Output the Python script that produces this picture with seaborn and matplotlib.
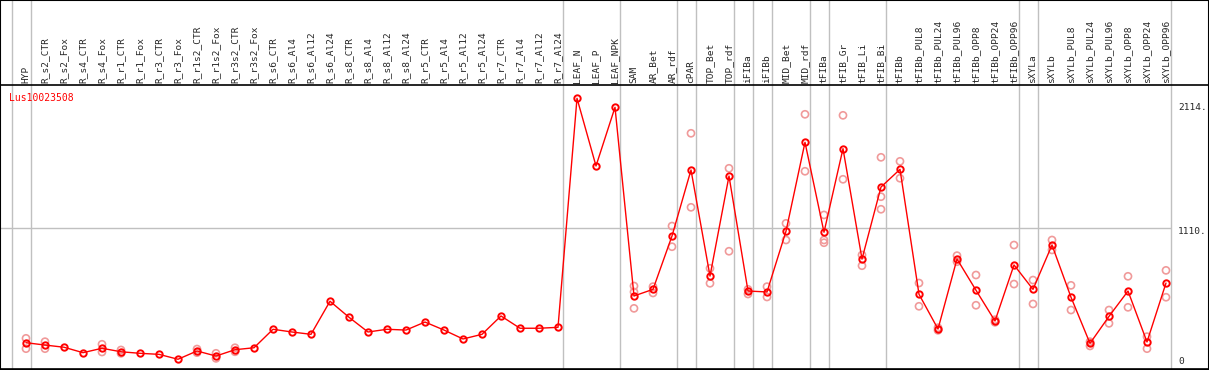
import numpy as np
import pandas as pd
import seaborn as sns
import matplotlib.pyplot as plt
import matplotlib.transforms as mtransforms

gene = 'Lus10023508'

samples = ['HYP',
	'R_s2_CTR', 'R_s2_Fox', 'R_s4_CTR', 'R_s4_Fox', 'R_r1_CTR', 'R_r1_Fox',
	'R_r3_CTR', 'R_r3_Fox', 'R_r1s2_CTR', 'R_r1s2_Fox', 'R_r3s2_CTR', 'R_r3s2_Fox',
	'R_s6_CTR', 'R_s6_Al4', 'R_s6_Al12', 'R_s6_Al24', 'R_s8_CTR', 'R_s8_Al4',
	'R_s8_Al12', 'R_s8_Al24', 'R_r5_CTR', 'R_r5_Al4', 'R_r5_Al12', 'R_r5_Al24',
	'R_r7_CTR', 'R_r7_Al4', 'R_r7_Al12', 'R_r7_Al24',
	'LEAF_N', 'LEAF_P', 'LEAF_NPK',
	'SAM', 'AR_Bet', 'AR_rdf',
	'cPAR',
	'TOP_Bet', 'TOP_rdf',
	'iFIBa', 'iFIBb',
	'MID_Bet', 'MID_rdf',
	'tFIBa',
	'tFIB_Gr', 'tFIB_Li', 'tFIB_Bi',
	'tFIBb', 'tFIBb_PUL8', 'tFIBb_PUL24', 'tFIBb_PUL96', 'tFIBb_OPP8',
	'tFIBb_OPP24', 'tFIBb_OPP96',
	'sXYLa',
	'sXYLb', 'sXYLb_PUL8', 'sXYLb_PUL24', 'sXYLb_PUL96', 'sXYLb_OPP8',
	'sXYLb_OPP24', 'sXYLb_OPP96']

# mean expression per sample
means = [222,
	204, 187, 145, 179, 152, 140,
	132, 94, 158, 119, 168, 183,
	326, 305, 287, 543, 419, 305,
	326, 320, 382, 320, 251, 287,
	429, 334, 334, 341,
	2114, 1590, 2044,
	584, 635, 1048,
	1559,
	738, 1512,
	622, 615,
	1085, 1773,
	1077,
	1724, 870, 1427,
	1564, 597, 328, 870, 628,
	390, 824,
	635,
	978, 574, 217, 426, 622,
	228, 684]

# replicate values per sample (empty where hidden behind the mean)
reps = [[256, 176],
	[230, 176], [], [], [210, 150], [166, 140], [],
	[], [], [173, 145], [140, 101], [183, 152], [],
	[], [], [], [], [], [],
	[], [], [], [], [], [],
	[], [], [], [],
	[], [], [],
	[661, 615, 488], [656, 607], [1125, 965],
	[1843, 1270],
	[798, 682], [1572, 930],
	[635, 599], [656, 576],
	[1146, 1017], [1990, 1549],
	[1211, 1017, 996],
	[1982, 1487], [901, 818], [1657, 1352, 1255],
	[1626, 1495], [684, 504], [338, 318], [896, 849], [746, 512],
	[400, 380], [978, 676],
	[707, 522],
	[1017, 940], [666, 475], [230, 197], [475, 372], [736, 496],
	[269, 176], [782, 574]]

# last sample of each group (separator drawn just right of it)
group_last = ['HYP', 'R_r7_Al24', 'LEAF_NPK', 'AR_rdf', 'cPAR', 'TOP_rdf',
	'iFIBa', 'iFIBb', 'MID_rdf', 'tFIBa', 'tFIB_Bi', 'tFIBb_OPP96', 'sXYLa',
	'sXYLb_OPP96']

axis_labels = [2114, 1110, 0]

def main():
	df = pd.DataFrame({'pos': np.arange(len(samples)), 'sample': samples, 'expr': means})
	rep_df = pd.DataFrame([(i, v) for i, r in enumerate(reps) for v in r],
		columns=['pos', 'expr'])

	sns.set_style('white')
	plt.rcParams['font.family'] = ['DejaVu Sans Mono']

	fig = plt.figure(figsize=(12.09, 3.70), dpi=100)
	ax = fig.add_axes([0, 1 / 370, 1, 284 / 370])
	ax.set_xlim(-26 / 19, 1183 / 19)
	ax.set_ylim(18.6, 2216.7)

	# group separators run through the header too
	for name in group_last + [None]:
		i = samples.index(name) if name else -1
		ax.axvline(i + 0.237, ymin=0, ymax=369 / 284, color='#c0c0c0', lw=1,
			clip_on=False, zorder=1)
	ax.hlines(1110, -26 / 19, len(samples) - 1 + 0.237, color='#c0c0c0', lw=1, zorder=1)

	sns.scatterplot(data=rep_df, x='pos', y='expr', ax=ax, marker='o', s=26,
		facecolor='none', edgecolor='#f09a9a', linewidth=1.2, zorder=2)
	sns.lineplot(data=df, x='pos', y='expr', ax=ax, color='red', lw=1,
		marker='o', markersize=4.6, markerfacecolor='none', markeredgecolor='red',
		markeredgewidth=1.4, zorder=3)

	for s in ax.spines.values():
		s.set_color('black')
		s.set_linewidth(1.2)
	ax.set_xticks([])
	ax.set_yticks([])
	ax.set_xlabel('')
	ax.set_ylabel('')

	# sample names in the header
	hdr = mtransforms.blended_transform_factory(ax.transData, ax.transAxes)
	for i, name in enumerate(samples):
		ax.text(i, 286 / 284, name, transform=hdr, rotation=90, ha='center',
			va='bottom', fontsize=6.8)

	ax.text(9 / 1209, (369 - 97.7) / 284, gene, transform=ax.transAxes,
		color='red', fontsize=7, ha='left', va='center')

	# value labels on the right
	rt = mtransforms.blended_transform_factory(ax.transAxes, ax.transData)
	offsets = {2114: -9.5, 1110: -4, 0: 9.5}
	for v in axis_labels:
		ax.annotate(str(v) + ('.' if v else ''), xy=(1178 / 1209, v), xycoords=rt,
			xytext=(0, offsets[v]), textcoords='offset pixels', fontsize=6.8,
			ha='left', va='center', annotation_clip=False)

	fig.add_artist(plt.Rectangle((0, 0), 1, 1, transform=fig.transFigure,
		fill=False, ec='black', lw=1.5))
	fig.savefig('out.png', dpi=100)

if __name__ == '__main__': main()
